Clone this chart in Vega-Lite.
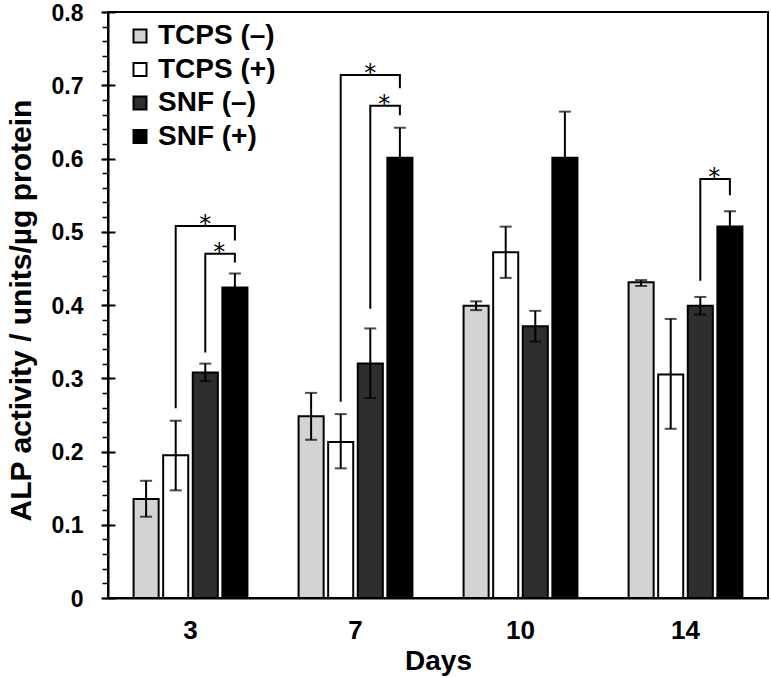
{
  "$schema": "https://vega.github.io/schema/vega-lite/v6.json",
  "width": 660,
  "height": 586,
  "autosize": {"type": "none"},
  "padding": {"left": 108, "top": 12, "right": 3, "bottom": 80},
  "background": "white",
  "config": {
    "view": {"stroke": "black", "strokeWidth": 2},
    "font": "Liberation Sans",
    "axis": {
      "domainColor": "black", "domainWidth": 2, "tickColor": "black", "tickWidth": 2,
      "labelColor": "black", "titleColor": "black", "grid": false,
      "labelFont": "Liberation Sans", "titleFont": "Liberation Sans",
      "labelFontWeight": "bold", "titleFontWeight": "bold"
    }
  },
  "datasets": {
    "bars": [
      {"day": 3, "series": "TCPS (–)", "mean": 0.135, "lo": 0.111, "hi": 0.160},
      {"day": 3, "series": "TCPS (+)", "mean": 0.195, "lo": 0.147, "hi": 0.242},
      {"day": 3, "series": "SNF (–)", "mean": 0.308, "lo": 0.296, "hi": 0.320},
      {"day": 3, "series": "SNF (+)", "mean": 0.424, "lo": 0.406, "hi": 0.443},
      {"day": 7, "series": "TCPS (–)", "mean": 0.248, "lo": 0.216, "hi": 0.280},
      {"day": 7, "series": "TCPS (+)", "mean": 0.213, "lo": 0.177, "hi": 0.251},
      {"day": 7, "series": "SNF (–)", "mean": 0.320, "lo": 0.273, "hi": 0.368},
      {"day": 7, "series": "SNF (+)", "mean": 0.601, "lo": 0.560, "hi": 0.642},
      {"day": 10, "series": "TCPS (–)", "mean": 0.399, "lo": 0.393, "hi": 0.405},
      {"day": 10, "series": "TCPS (+)", "mean": 0.472, "lo": 0.437, "hi": 0.507},
      {"day": 10, "series": "SNF (–)", "mean": 0.371, "lo": 0.350, "hi": 0.392},
      {"day": 10, "series": "SNF (+)", "mean": 0.601, "lo": 0.538, "hi": 0.664},
      {"day": 14, "series": "TCPS (–)", "mean": 0.431, "lo": 0.426, "hi": 0.434},
      {"day": 14, "series": "TCPS (+)", "mean": 0.305, "lo": 0.231, "hi": 0.381},
      {"day": 14, "series": "SNF (–)", "mean": 0.399, "lo": 0.387, "hi": 0.411},
      {"day": 14, "series": "SNF (+)", "mean": 0.507, "lo": 0.486, "hi": 0.528}
    ],
    "brackets": [
      {"bid": "b3o", "day": 3, "series": "TCPS (+)", "y": 0.259, "ord": 1},
      {"bid": "b3o", "day": 3, "series": "TCPS (+)", "y": 0.508, "ord": 2},
      {"bid": "b3o", "day": 3, "series": "SNF (+)", "y": 0.508, "ord": 3},
      {"bid": "b3o", "day": 3, "series": "SNF (+)", "y": 0.488, "ord": 4},
      {"bid": "b3i", "day": 3, "series": "SNF (–)", "y": 0.335, "ord": 1},
      {"bid": "b3i", "day": 3, "series": "SNF (–)", "y": 0.470, "ord": 2},
      {"bid": "b3i", "day": 3, "series": "SNF (+)", "y": 0.470, "ord": 3},
      {"bid": "b3i", "day": 3, "series": "SNF (+)", "y": 0.458, "ord": 4},
      {"bid": "b7o", "day": 7, "series": "TCPS (+)", "y": 0.268, "ord": 1},
      {"bid": "b7o", "day": 7, "series": "TCPS (+)", "y": 0.714, "ord": 2},
      {"bid": "b7o", "day": 7, "series": "SNF (+)", "y": 0.714, "ord": 3},
      {"bid": "b7o", "day": 7, "series": "SNF (+)", "y": 0.696, "ord": 4},
      {"bid": "b7i", "day": 7, "series": "SNF (–)", "y": 0.395, "ord": 1},
      {"bid": "b7i", "day": 7, "series": "SNF (–)", "y": 0.672, "ord": 2},
      {"bid": "b7i", "day": 7, "series": "SNF (+)", "y": 0.672, "ord": 3},
      {"bid": "b7i", "day": 7, "series": "SNF (+)", "y": 0.659, "ord": 4},
      {"bid": "b14", "day": 14, "series": "SNF (–)", "y": 0.433, "ord": 1},
      {"bid": "b14", "day": 14, "series": "SNF (–)", "y": 0.572, "ord": 2},
      {"bid": "b14", "day": 14, "series": "SNF (+)", "y": 0.572, "ord": 3},
      {"bid": "b14", "day": 14, "series": "SNF (+)", "y": 0.550, "ord": 4}
    ],
    "starsMid": [
      {"day": 3, "series": "SNF (–)", "y": 0.508},
      {"day": 7, "series": "SNF (–)", "y": 0.714}
    ],
    "starsBetween": [
      {"day": 3, "series": "SNF (–)", "y": 0.470},
      {"day": 7, "series": "SNF (–)", "y": 0.672},
      {"day": 14, "series": "SNF (–)", "y": 0.572}
    ]
  },
  "encoding": {
    "x": {
      "field": "day", "type": "nominal",
      "scale": {"domain": [3, 7, 10, 14], "paddingInner": 0.31, "paddingOuter": 0.155},
      "axis": {
        "title": "Days", "ticks": false, "tickSize": 0, "labelPadding": 40,
        "labelBaseline": "alphabetic", "labelFontSize": 26, "labelAngle": 0,
        "titleFontSize": 28, "titleBaseline": "alphabetic", "titleY": 71
      }
    },
    "xOffset": {
      "field": "series", "type": "nominal",
      "scale": {"domain": ["TCPS (–)", "TCPS (+)", "SNF (–)", "SNF (+)"], "paddingInner": 0.153, "paddingOuter": 0}
    }
  },
  "layer": [
    {
      "data": {"name": "bars"},
      "mark": {"type": "bar", "stroke": "black", "strokeWidth": 2},
      "encoding": {
        "y": {
          "field": "mean", "type": "quantitative",
          "scale": {"domain": [0, 0.8], "nice": false, "zero": true},
          "axis": {
            "orient": "left",
            "values": [0, 0.1, 0.2, 0.3, 0.4, 0.5, 0.6, 0.7, 0.8],
            "format": ".1~f", "tickSize": 7, "labelPadding": 18, "labelFontSize": 23,
            "labelOffset": 1,
            "title": "ALP activity / units/µg protein", "titleFontSize": 30,
            "titleX": -78, "titleY": 298, "titleBaseline": "alphabetic", "titleAlign": "center", "titleAngle": 270
          }
        },
        "fill": {
          "field": "series", "type": "nominal",
          "scale": {"domain": ["TCPS (–)", "TCPS (+)", "SNF (–)", "SNF (+)"], "range": ["#d3d3d3", "#ffffff", "#2e2e2e", "#000000"]},
          "legend": {
            "orient": "none", "legendX": 18, "legendY": 10, "title": null,
            "symbolType": "square", "symbolSize": 169, "symbolStrokeColor": "black", "symbolStrokeWidth": 2,
            "labelFontSize": 28, "labelFontWeight": "bold", "labelFont": "Liberation Sans", "labelColor": "black",
            "labelOffset": 4, "rowPadding": 5.5, "padding": 0, "labelLimit": 300
          }
        }
      }
    },
    {
      "data": {"name": "bars"},
      "mark": {"type": "rule", "color": "black", "strokeWidth": 2},
      "encoding": {
        "y": {
          "field": "lo", "type": "quantitative",
          "scale": {"domain": [0, 0.8], "nice": false, "zero": true},
          "axis": {
            "orient": "left",
            "values": [0, 0.02, 0.04, 0.06, 0.08, 0.1, 0.12, 0.14, 0.16, 0.18, 0.2, 0.22, 0.24, 0.26, 0.28, 0.3, 0.32, 0.34, 0.36, 0.38, 0.4, 0.42, 0.44, 0.46, 0.48, 0.5, 0.52, 0.54, 0.56, 0.58, 0.6, 0.62, 0.64, 0.66, 0.68, 0.7, 0.72, 0.74, 0.76, 0.78, 0.8],
            "tickSize": 6, "tickWidth": 1.5, "labels": false, "domain": false, "title": null
          }
        },
        "y2": {"field": "hi"}
      }
    },
    {
      "data": {"name": "bars"},
      "mark": {"type": "tick", "color": "black", "thickness": 2, "size": 12},
      "encoding": {
        "y": {
          "field": "hi", "type": "quantitative",
          "scale": {"domain": [0, 0.8], "nice": false, "zero": true},
          "axis": {
            "orient": "left",
            "values": [0, 0.1, 0.2, 0.3, 0.4, 0.5, 0.6, 0.7, 0.8],
            "tickSize": -7, "labels": false, "domain": false, "title": null
          }
        }
      }
    },
    {
      "data": {"name": "bars"},
      "mark": {"type": "tick", "color": "black", "thickness": 2, "size": 12},
      "encoding": {
        "y": {"field": "lo", "type": "quantitative", "scale": {"domain": [0, 0.8], "nice": false, "zero": true}, "axis": null}
      }
    },
    {
      "data": {"name": "brackets"},
      "mark": {"type": "line", "color": "black", "strokeWidth": 2, "strokeCap": "butt"},
      "encoding": {
        "y": {"field": "y", "type": "quantitative", "scale": {"domain": [0, 0.8], "nice": false, "zero": true}, "axis": null},
        "detail": {"field": "bid"},
        "order": {"field": "ord"}
      }
    },
    {
      "data": {"name": "starsMid"},
      "mark": {"type": "text", "text": "*", "font": "DejaVu Sans", "fontSize": 24, "baseline": "alphabetic", "dy": 6, "fill": "black", "color": "black"},
      "encoding": {
        "y": {"field": "y", "type": "quantitative", "scale": {"domain": [0, 0.8], "nice": false, "zero": true}, "axis": null}
      }
    },
    {
      "data": {"name": "starsBetween"},
      "mark": {"type": "text", "text": "*", "font": "DejaVu Sans", "fontSize": 24, "baseline": "alphabetic", "dy": 6, "dx": 14, "fill": "black", "color": "black"},
      "encoding": {
        "y": {"field": "y", "type": "quantitative", "scale": {"domain": [0, 0.8], "nice": false, "zero": true}, "axis": null}
      }
    }
  ],
  "resolve": {"axis": {"y": "independent"}}
}
